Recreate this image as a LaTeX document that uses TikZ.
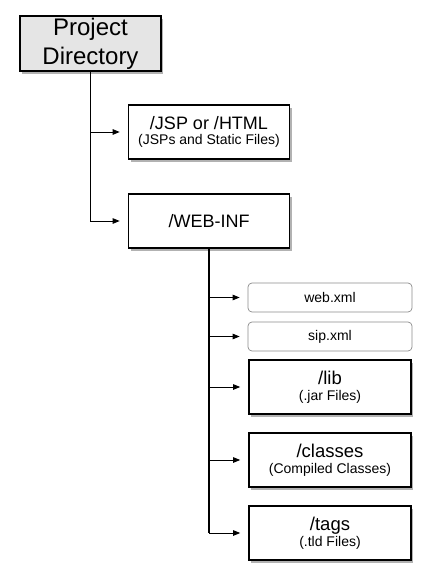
\documentclass[tikz,border=0pt]{standalone}
\usepackage{fontspec}
\setmainfont{Liberation Sans}
\usetikzlibrary{arrows.meta,shadows}
\begin{document}
\begin{tikzpicture}[x=1pt,y=-1pt,
  shad/.style={drop shadow={shadow xshift=2pt,shadow yshift=-2.5pt,fill=black,opacity=0.3}},
  dirbox/.style={draw=black,line width=1.6pt,fill=white,inner sep=0pt,align=center,shad,
     minimum width=161pt,minimum height=54pt,font=\fontsize{14}{15.5}\selectfont},
  filebox/.style={draw=black!45,line width=0.7pt,rounded corners=4pt,fill=white,inner sep=0pt,
     minimum width=164pt,minimum height=29pt,font=\fontsize{14}{16}\selectfont},
  conn/.style={draw=black,line width=0.9pt,-{Triangle[length=7pt,width=5.5pt]},shorten >=8pt},
  trunk/.style={draw=black,line width=1.6pt}
]
\useasboundingbox (0,0) rectangle (430,584);
\node[dirbox,fill=black!10,line width=2.2pt,minimum width=141pt,minimum height=55pt,
  font=\fontsize{24}{29}\selectfont] (pd) at (90.5,43.5) {\raisebox{0pt}{Project}\\Directory};
\node[dirbox] (jsp) at (209,132) {{\fontsize{18}{15.5}\selectfont /JSP or /HTML}\\(JSPs and Static Files)};
\node[dirbox,font=\fontsize{18}{20}\selectfont] (wi) at (209,221) {/WEB-INF};
\node[filebox] (webxml) at (330,297.5) {web.xml};
\node[filebox] (sipxml) at (330,336.5) {sip.xml};
\node[dirbox,minimum width=162pt] (lib) at (330,387) {{\fontsize{18.5}{15.5}\selectfont /lib}\\(.jar Files)};
\node[dirbox,minimum width=162pt] (classes) at (330,460) {{\fontsize{18.5}{15.5}\selectfont /classes}\\(Compiled Classes)};
\node[dirbox,minimum width=162pt] (tags) at (330,533) {{\fontsize{18.5}{15.5}\selectfont /tags}\\(.tld Files)};
\draw[conn] (pd.south) |- (jsp.west);
\draw[conn] (pd.south) |- (wi.west);
\draw[trunk] (wi.south) -- (wi.south |- tags.west);
\draw[conn] (wi.south) |- (webxml.west);
\draw[conn] (wi.south) |- (sipxml.west);
\draw[conn] (wi.south) |- (lib.west);
\draw[conn] (wi.south) |- (classes.west);
\draw[conn] (wi.south) |- (tags.west);
\end{tikzpicture}
\end{document}
